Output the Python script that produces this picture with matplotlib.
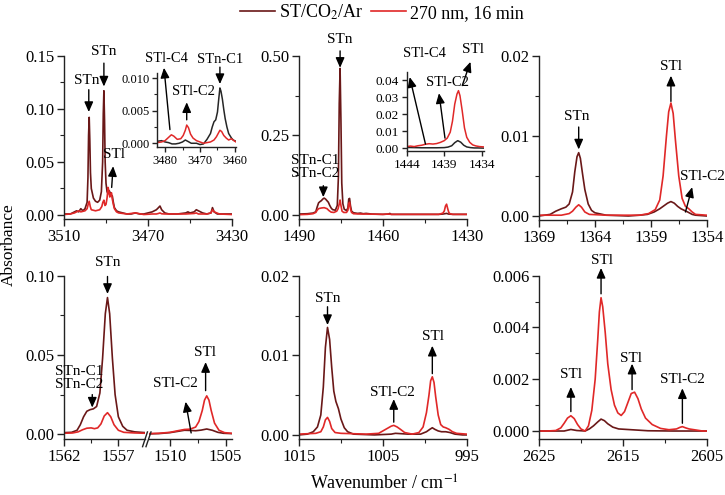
import matplotlib
matplotlib.use("Agg")
import matplotlib.pyplot as plt
from matplotlib.ticker import AutoMinorLocator, FormatStrFormatter
from matplotlib.lines import Line2D

plt.rcParams['font.family'] = ['Liberation Serif', 'DejaVu Serif']
plt.rcParams['mathtext.fontset'] = 'stix'

DARK = '#6a1818'
RED = '#e02828'
INSET_DARK = '#262626'
legend_labels = ['ST/CO$_2$/Ar', '270 nm, 16 min']

# ---------------- Panel A (3510-3430) ----------------
a_dark_x = [3510, 3507, 3505, 3504, 3503, 3502, 3501, 3500, 3499, 3498.6, 3498.3, 3498.0, 3497.7, 3497.4, 3497,
            3496, 3495, 3494, 3493, 3492.2, 3491.6, 3491.3, 3491.0, 3490.7, 3490.4, 3490, 3489.5, 3489, 3488.5,
            3488, 3487.5, 3487, 3486.5, 3486, 3485, 3484, 3482, 3480, 3478, 3476, 3474, 3472, 3470, 3468, 3466,
            3465, 3464.3, 3463.5, 3462, 3460, 3456, 3452, 3451, 3450, 3448, 3447, 3446, 3444, 3442, 3440, 3439.3,
            3438.5, 3437, 3434, 3430]
a_dark_y = [0.001, 0.001, 0.003, 0.004, 0.003, 0.006, 0.004, 0.006, 0.012, 0.035, 0.075, 0.092, 0.07, 0.04, 0.025,
            0.016, 0.013, 0.012, 0.014, 0.022, 0.05, 0.095, 0.117, 0.09, 0.05, 0.03, 0.022, 0.02, 0.023,
            0.021, 0.019, 0.018, 0.012, 0.007, 0.004, 0.003, 0.002, 0.001, 0.001, 0.002, 0.001, 0.001, 0.002, 0.003, 0.005,
            0.007, 0.0085, 0.005, 0.002, 0.001, 0.001, 0.002, 0.003, 0.002, 0.003, 0.005, 0.004, 0.002, 0.001, 0.002, 0.007,
            0.003, 0.001, 0.001, 0.001]
a_red_x = [3510, 3507, 3505, 3503, 3502, 3500, 3499, 3498.5, 3498, 3497.5, 3497, 3495, 3493, 3492, 3491.5, 3491,
           3490.5, 3490, 3489.5, 3489, 3488.6, 3488.2, 3487.8, 3487.4, 3487, 3486.5, 3486, 3485, 3484, 3480, 3476,
           3472, 3468, 3466, 3465, 3464.3, 3463.5, 3462, 3456, 3452, 3448, 3447, 3446, 3442, 3440, 3439.3, 3438.5,
           3436, 3430]
a_red_y = [0.0005, 0.001, 0.002, 0.004, 0.003, 0.004, 0.006, 0.01, 0.013, 0.008, 0.005, 0.004, 0.005, 0.008, 0.012, 0.014,
           0.009, 0.01, 0.016, 0.026, 0.022, 0.017, 0.019, 0.021, 0.015, 0.01, 0.006, 0.003, 0.002, 0.001, 0.002,
           0.0005, 0.001, 0.001, 0.0015, 0.002, 0.0012, 0.001, 0.001, 0.001, 0.0015, 0.002, 0.001, 0.001, 0.002, 0.005, 0.003,
           0.001, 0.0005]
ia_dark_x = [3482.3, 3481, 3480, 3479, 3478, 3477, 3476, 3475, 3474.2, 3473.5, 3472.5, 3471, 3470, 3469, 3468, 3467,
             3466.5, 3466, 3465.5, 3465, 3464.6, 3464.3, 3464, 3463.6, 3463.2, 3462.8, 3462.3, 3461.8, 3461, 3460.5, 3459.7]
ia_dark_y = [0.0003, 0.0004, 0.0002, 0.0001, -0.0001, -0.0001, 0.0000, 0.0002, 0.0005, 0.0003, 0.0000, 0.0000, -0.0002,
             -0.0001, 0.0006, 0.0015, 0.0025, 0.0033, 0.0036, 0.0048, 0.0070, 0.0085, 0.0080, 0.0068, 0.0052, 0.0038,
             0.0025, 0.0015, 0.0008, 0.0005, 0.0003]
ia_red_x = [3482.3, 3481, 3480, 3479, 3478.2, 3477.5, 3476.5, 3475.5, 3474.8, 3474.2, 3473.8, 3473.3, 3472.7, 3472, 3471,
            3470, 3469, 3468, 3467, 3466, 3465.3, 3464.7, 3464.3, 3463.8, 3463.2, 3462.5, 3461.8, 3461, 3460.3, 3459.7]
ia_red_y = [0.0001, 0.0002, 0.0004, 0.0009, 0.0013, 0.0011, 0.0006, 0.0007, 0.0012, 0.0020, 0.0028, 0.0024, 0.0014, 0.0008,
            0.0004, 0.0002, 0.0000, 0.0001, 0.0002, 0.0005, 0.0010, 0.0016, 0.0020, 0.0018, 0.0012, 0.0008, 0.0005, 0.0007,
            0.0004, 0.0002]

# ---------------- Panel B (1490-1430) ----------------
b_dark_x = [1490, 1487, 1485, 1484, 1483.5, 1483, 1482.5, 1482, 1481.5, 1481, 1480.5, 1480, 1479.5, 1479, 1478.5, 1478,
            1477, 1476.3, 1475.9, 1475.6, 1475.3, 1475.0, 1474.7, 1474.3, 1473.8, 1473, 1472.5, 1472.2, 1471.9, 1471.6,
            1471.2, 1470.5, 1469, 1468, 1467, 1466, 1464, 1460, 1458, 1457.5, 1457, 1450, 1445, 1440, 1438.5, 1437.2,
            1436.5, 1435, 1430]
b_dark_y = [0.003, 0.004, 0.006, 0.01, 0.025, 0.038, 0.042, 0.045, 0.05, 0.053, 0.05, 0.045, 0.04, 0.03, 0.022, 0.017,
            0.015, 0.03, 0.12, 0.35, 0.46, 0.3, 0.1, 0.035, 0.018, 0.014, 0.022, 0.05, 0.052, 0.03,
            0.012, 0.007, 0.005, 0.006, 0.004, 0.005, 0.003, 0.002, 0.003, 0.005, 0.002, 0.002, 0.002, 0.002, 0.003, 0.005,
            0.003, 0.002, 0.002]
b_red_x = [1490, 1487, 1485, 1484, 1483.5, 1483, 1482, 1481, 1480, 1479.3, 1478.5, 1477.5, 1476.5, 1476, 1475.6, 1475.3,
           1475.0, 1474.6, 1474, 1473, 1472.5, 1472.2, 1471.9, 1471.6, 1471.2, 1470.5, 1468, 1466, 1460, 1458, 1457, 1450,
           1440, 1438.5, 1438, 1437.6, 1437.2, 1436.8, 1436.4, 1436, 1435, 1430]
b_red_y = [0.001, 0.002, 0.004, 0.008, 0.015, 0.02, 0.022, 0.023, 0.02, 0.014, 0.009, 0.008, 0.012, 0.02, 0.035, 0.047,
           0.03, 0.012, 0.008, 0.008, 0.015, 0.035, 0.04, 0.02, 0.008, 0.004, 0.003, 0.003, 0.002, 0.003, 0.002, 0.002,
           0.002, 0.006, 0.013, 0.028, 0.034, 0.02, 0.008, 0.004, 0.002, 0.002]
ib_dark_x = [1444, 1443, 1442, 1441, 1440, 1439, 1438.5, 1438, 1437.6, 1437.2, 1436.8, 1436.4, 1436, 1435.5, 1435, 1434.5, 1433.7]
ib_dark_y = [0.0005, 0.0004, 0.0003, 0.0003, 0.0003, 0.0004, 0.0007, 0.0015, 0.0033, 0.0045, 0.0036, 0.0018, 0.0008, 0.0004,
             0.0002, 0.0002, 0.0001]
ib_red_x = [1444, 1443.5, 1443, 1442.5, 1442, 1441.5, 1441, 1440.5, 1440, 1439.5, 1439, 1438.6, 1438.2, 1437.9, 1437.6,
            1437.3, 1437.1, 1436.9, 1436.6, 1436.3, 1436, 1435.6, 1435.2, 1434.8, 1434.3, 1433.7]
ib_red_y = [0.0010, 0.0013, 0.0010, 0.0015, 0.0018, 0.0024, 0.0027, 0.0025, 0.0028, 0.0035, 0.0045, 0.0060, 0.0095, 0.016,
            0.026, 0.032, 0.034, 0.031, 0.022, 0.012, 0.0065, 0.0035, 0.002, 0.0014, 0.0010, 0.0008]

# ---------------- Panel C (1369-1354) ----------------
c_dark_x = [1369, 1368.5, 1368, 1367.5, 1367, 1366.6, 1366.3, 1366.0, 1365.8, 1365.6, 1365.45, 1365.3, 1365.1, 1364.9,
            1364.6, 1364.3, 1364, 1363, 1361, 1360, 1359.3, 1358.7, 1358.2, 1357.8, 1357.5, 1357.2, 1356.9, 1356.6,
            1356.3, 1356.0, 1355.7, 1355.3, 1355, 1354]
c_dark_y = [0.0000, 0.0001, 0.0002, 0.0006, 0.0009, 0.0011, 0.0015, 0.0030, 0.0055, 0.0074, 0.0079, 0.0072, 0.0052, 0.0033,
            0.0015, 0.0007, 0.0004, 0.0001, 0.0000, 0.0001, 0.0002, 0.0005, 0.0009, 0.0013, 0.0016, 0.0018, 0.0016, 0.0012,
            0.0009, 0.0007, 0.0005, 0.0002, 0.0001, 0.0000]
c_red_x = [1369, 1367, 1366.3, 1366.0, 1365.7, 1365.45, 1365.2, 1364.9, 1364.5, 1363, 1360, 1359.2, 1358.6, 1358.2, 1357.9,
           1357.6, 1357.4, 1357.2, 1357.0, 1356.8, 1356.5, 1356.2, 1355.9, 1355.6, 1355.3, 1355, 1354]
c_red_y = [0.0001, 0.0001, 0.0003, 0.0006, 0.0011, 0.0014, 0.0011, 0.0005, 0.0002, 0.0001, 0.0001, 0.0003, 0.0008, 0.0020,
           0.0050, 0.0100, 0.0130, 0.0141, 0.0128, 0.0095, 0.0050, 0.0022, 0.0012, 0.0009, 0.0005, 0.0002, 0.0001]

# ---------------- Panel D (1562-1555 // 1512-1504) ----------------
dl_dark_x = [1562, 1561.3, 1560.8, 1560.5, 1560.2, 1559.9, 1559.6, 1559.3, 1559.0, 1558.7, 1558.45, 1558.2, 1558.0,
             1557.8, 1557.55, 1557.3, 1557.0, 1556.6, 1556.2, 1555.5, 1554.5]
dl_dark_y = [0.0010, 0.0012, 0.0025, 0.0060, 0.0110, 0.0145, 0.0155, 0.0160, 0.0175, 0.0260, 0.0480, 0.0760, 0.0862,
             0.0760, 0.0480, 0.0250, 0.0110, 0.0050, 0.0025, 0.0015, 0.0010]
dl_red_x = [1562, 1561.2, 1560.7, 1560.3, 1559.9, 1559.5, 1559.2, 1558.9, 1558.6, 1558.3, 1558.0, 1557.7, 1557.4, 1557.0,
            1556.5, 1555.5, 1554.5]
dl_red_y = [0.0006, 0.0008, 0.0015, 0.0028, 0.0038, 0.0040, 0.0035, 0.0040, 0.0065, 0.0115, 0.0136, 0.0110, 0.0060, 0.0025,
            0.0012, 0.0008, 0.0006]
dr_dark_x = [1512, 1511, 1510, 1509.3, 1508.7, 1508.2, 1507.7, 1507.2, 1506.7, 1506.2, 1505.7, 1505.2, 1504.5]
dr_dark_y = [0.0002, 0.0004, 0.0010, 0.0018, 0.0025, 0.0024, 0.0022, 0.0026, 0.0033, 0.0025, 0.0012, 0.0006, 0.0004]
dr_red_x = [1512, 1511, 1510, 1509.3, 1508.7, 1508.2, 1507.7, 1507.4, 1507.1, 1506.9, 1506.7, 1506.5, 1506.3, 1506.0,
            1505.6, 1505.1, 1504.5]
dr_red_y = [0.0004, 0.0006, 0.0012, 0.0022, 0.0030, 0.0032, 0.0045, 0.0080, 0.0150, 0.0215, 0.0242, 0.0215, 0.0150, 0.0070,
            0.0025, 0.0010, 0.0006]

# ---------------- Panel E (1015-995) ----------------
e_dark_x = [1015, 1014, 1013.3, 1012.8, 1012.4, 1012.1, 1011.85, 1011.6, 1011.35, 1011.1, 1010.85, 1010.6, 1010.3,
            1010.0, 1009.6, 1009.2, 1008.5, 1006, 1004, 1003.5, 1002, 1000.5, 999.8, 999.4, 999.1, 998.8, 998.4, 998.0,
            997.5, 997.0, 996.4, 995.5, 995]
e_dark_y = [0.0000, 0.0001, 0.0004, 0.0010, 0.0025, 0.0060, 0.0110, 0.0135, 0.0120, 0.0085, 0.0055, 0.0042, 0.0033,
            0.0020, 0.0009, 0.0004, 0.0001, 0.0000, 0.0001, 0.0002, 0.0001, 0.0001, 0.0004, 0.0007, 0.0009, 0.0007,
            0.0005, 0.0004, 0.0004, 0.0003, 0.0001, 0.0000, 0.0000]
e_red_x = [1015, 1013, 1012.4, 1012.1, 1011.85, 1011.6, 1011.35, 1011.1, 1010.7, 1010, 1007, 1005.5, 1005, 1004.5, 1004.0,
           1003.7, 1003.3, 1002.9, 1002.4, 1001.5, 1000.7, 1000.2, 999.8, 999.5, 999.3, 999.1, 998.9, 998.7, 998.4,
           998.1, 997.8, 997.5, 997.1, 996.7, 996.2, 995]
e_red_y = [0.0001, 0.0002, 0.0004, 0.0010, 0.0019, 0.0022, 0.0017, 0.0008, 0.0003, 0.0002, 0.0001, 0.0002, 0.0005, 0.0008,
           0.0011, 0.0012, 0.0010, 0.0007, 0.0003, 0.0001, 0.0003, 0.0010, 0.0028, 0.0050, 0.0068, 0.0073, 0.0066,
           0.0048, 0.0025, 0.0013, 0.0010, 0.0009, 0.0007, 0.0004, 0.0002, 0.0001]

# ---------------- Panel F (2625-2605) ----------------
f_red_x = [2625, 2624, 2623, 2622.4, 2622, 2621.6, 2621.2, 2620.8, 2620.4, 2620, 2619.5, 2619.1, 2618.7, 2618.3, 2618.0,
           2617.8, 2617.6, 2617.4, 2617.1, 2616.8, 2616.4, 2616.0, 2615.6, 2615.2, 2614.8, 2614.4, 2614.0, 2613.6,
           2613.2, 2612.8, 2612.3, 2611.5, 2610.5, 2609.5, 2608.6, 2608.2, 2607.9, 2607.5, 2607.1, 2606.5, 2605.5, 2605]
f_red_y = [0.0, 0.0, 0.00002, 0.00012, 0.0003, 0.0005, 0.00059, 0.00048, 0.00025, 0.00008, 0.0, 0.0002, 0.0008, 0.002,
           0.0035, 0.0046, 0.00515, 0.0048, 0.0038, 0.0026, 0.0016, 0.001, 0.0007, 0.0006, 0.00075, 0.0011, 0.00145,
           0.0015, 0.00125, 0.00085, 0.0005, 0.00025, 0.0001, 0.00005, 0.00008, 0.00014, 0.00017, 0.00012, 0.00008,
           0.00005, 0.0, 0.0]
f_dark_x = [2625, 2622, 2621.2, 2620.5, 2619.5, 2619, 2618.5, 2618, 2617.6, 2617.2, 2616.8, 2616.2, 2615.5, 2614.5,
            2613.5, 2612, 2609, 2605]
f_dark_y = [0.0, 0.0, 0.00006, 0.00002, 0.0, 0.00008, 0.0002, 0.00035, 0.00046, 0.0004, 0.00028, 0.00015, 0.00008,
            0.00006, 0.00004, 0.00001, 0.0, 0.0]

# ---------------- figure ----------------
W, H = 725, 495
fig = plt.figure(figsize=(W / 100, H / 100), dpi=100)


def add_ax(x0, x1, ytop, ybot, **kw):
    return fig.add_axes([x0 / W, 1 - ybot / H, (x1 - x0) / W, (ybot - ytop) / H], **kw)


def style(ax, fs=12, minor=True, major_len=5):
    for s in ['top', 'right']:
        ax.spines[s].set_visible(False)
    for s in ['left', 'bottom']:
        ax.spines[s].set_linewidth(1.0)
        ax.spines[s].set_color('#222222')
    ax.tick_params(which='major', direction='out', length=major_len, width=1, labelsize=fs, pad=2,
                   color='#222222')
    ax.tick_params(which='minor', direction='out', length=major_len * 0.6, width=0.8, color='#222222')
    if minor:
        ax.xaxis.set_minor_locator(AutoMinorLocator(2))
        ax.yaxis.set_minor_locator(AutoMinorLocator(2))
    ax.patch.set_alpha(0)


def curves(ax, xd, yd, xr, yr, dark=DARK, lw=1.2):
    ax.plot(xd, yd, color=dark, lw=lw, solid_joinstyle='round')
    ax.plot(xr, yr, color=RED, lw=lw, solid_joinstyle='round')


def arrow(ax, tail, head):
    ax.annotate('', xy=head, xytext=tail, annotation_clip=False,
                arrowprops=dict(arrowstyle='-|>,head_length=0.5,head_width=0.22', color='black', lw=1.0,
                                mutation_scale=12, shrinkA=0, shrinkB=0))


def label(ax, x, y, s, fs=11):
    ax.text(x, y, s, ha='center', va='center', fontsize=fs, linespacing=0.95, clip_on=False)


# Panel A
axA = add_ax(64, 232, 55.7, 219.3)
curves(axA, a_dark_x, a_dark_y, a_red_x, a_red_y)
axA.set_xlim(3510, 3430)
axA.set_ylim(-0.004, 0.15)
axA.set_xticks([3510, 3470, 3430])
axA.set_yticks([0.0, 0.05, 0.10, 0.15])
axA.yaxis.set_major_formatter(FormatStrFormatter('%.2f'))
style(axA)
label(axA, 3486.4, 0.057, 'STl')
arrow(axA, (3487.3, 0.026), (3486.6, 0.046))
label(axA, 3499.2, 0.127, 'STn')
arrow(axA, (3498.2, 0.118), (3498.2, 0.097))
label(axA, 3491, 0.154, 'STn')
arrow(axA, (3491, 0.143), (3491, 0.121))

iA = add_ax(157, 236, 73, 147.3)
curves(iA, ia_dark_x, ia_dark_y, ia_red_x, ia_red_y, dark=INSET_DARK, lw=1.1)
iA.set_xlim(3482.3, 3459.7)
iA.set_ylim(-0.00062, 0.0108)
iA.set_xticks([3480, 3470, 3460])
iA.set_yticks([0.0, 0.005, 0.010])
iA.yaxis.set_major_formatter(FormatStrFormatter('%.3f'))
style(iA, fs=9, major_len=3.5)
label(iA, 3479.5, 0.0131, 'STl-C4', fs=10.5)
arrow(iA, (3478.6, 0.0021), (3480.3, 0.0116))
label(iA, 3472.0, 0.0079, 'STl-C2', fs=10.5)
arrow(iA, (3473.8, 0.0036), (3473.8, 0.0063))
label(iA, 3464.2, 0.0128, 'STn-C1', fs=10.5)
arrow(iA, (3464.3, 0.0117), (3464.3, 0.0091))

# Panel B
axB = add_ax(299, 466.7, 55.7, 219.3)
curves(axB, b_dark_x, b_dark_y, b_red_x, b_red_y)
axB.set_xlim(1490, 1430)
axB.set_ylim(-0.0135, 0.50)
axB.set_xticks([1490, 1460, 1430])
axB.set_yticks([0.0, 0.25, 0.50])
axB.yaxis.set_major_formatter(FormatStrFormatter('%.2f'))
style(axB)
label(axB, 1475.3, 0.552, 'STn')
arrow(axB, (1475.3, 0.515), (1475.3, 0.462))
label(axB, 1484.2, 0.15, 'STn-C1\nSTn-C2')
arrow(axB, (1481.3, 0.092), (1481.3, 0.056))

iB = add_ax(406.7, 484, 72, 151)
curves(iB, ib_dark_x, ib_dark_y, ib_red_x, ib_red_y, dark=INSET_DARK, lw=1.1)
iB.set_xlim(1444, 1433.7)
iB.set_ylim(-0.0016, 0.045)
iB.set_xticks([1444, 1439, 1434])
iB.set_yticks([0.0, 0.01, 0.02, 0.03, 0.04])
iB.yaxis.set_major_formatter(FormatStrFormatter('%.2f'))
style(iB, fs=9.5, major_len=3.5, minor=False)
label(iB, 1441.6, 0.056, 'STl-C4', fs=10.5)
arrow(iB, (1441.5, 0.0025), (1443.6, 0.042))
label(iB, 1438.6, 0.039, 'STl-C2', fs=10.5)
arrow(iB, (1438.9, 0.006), (1439.7, 0.0325))
label(iB, 1435.2, 0.058, 'STl', fs=11)
arrow(iB, (1436.6, 0.037), (1435.5, 0.051))

# Panel C
axC = add_ax(539, 706.7, 55.7, 220)
curves(axC, c_dark_x, c_dark_y, c_red_x, c_red_y)
axC.set_xlim(1369, 1354)
axC.set_ylim(-0.0005, 0.02)
axC.set_xticks([1369, 1364, 1359, 1354])
axC.set_yticks([0.0, 0.01, 0.02])
axC.yaxis.set_major_formatter(FormatStrFormatter('%.2f'))
style(axC)
label(axC, 1365.6, 0.0124, 'STn')
arrow(axC, (1365.45, 0.0111), (1365.45, 0.0083))
label(axC, 1357.2, 0.0187, 'STl')
arrow(axC, (1357.2, 0.0143), (1357.2, 0.0175))
label(axC, 1354.4, 0.0049, 'STl-C2')
arrow(axC, (1355.9, 0.0005), (1355.3, 0.0036))

# Panel D (broken axis)
axDL = add_ax(64, 145, 275.7, 439.3)
axDR = add_ax(148.5, 232, 275.7, 439.3)
curves(axDL, dl_dark_x, dl_dark_y, dl_red_x, dl_red_y)
curves(axDR, dr_dark_x, dr_dark_y, dr_red_x, dr_red_y)
axDL.set_xlim(1562, 1554.55)
axDR.set_xlim(1511.93, 1504.43)
for ax in (axDL, axDR):
    ax.set_ylim(-0.0032, 0.10)
axDL.set_xticks([1562, 1557])
axDR.set_xticks([1510, 1505])
axDL.set_yticks([0.0, 0.05, 0.10])
axDL.yaxis.set_major_formatter(FormatStrFormatter('%.2f'))
style(axDL)
style(axDR)
axDR.spines['left'].set_visible(False)
axDR.tick_params(axis='y', which='both', left=False, labelleft=False)
for ax, xpos in ((axDL, 1.0), (axDR, 0.0)):
    ax.plot([xpos - 0.03, xpos + 0.03], [-0.045, 0.045], transform=ax.transAxes, color='#222222',
            lw=1.0, clip_on=False)
label(axDL, 1558.0, 0.1085, 'STn')
arrow(axDL, (1558.0, 0.0995), (1558.0, 0.0885))
label(axDL, 1560.6, 0.0355, 'STn-C1\nSTn-C2')
arrow(axDL, (1559.4, 0.0250), (1559.4, 0.0168))
label(axDR, 1506.9, 0.0515, 'STl')
arrow(axDR, (1506.8, 0.0275), (1506.8, 0.0455))
label(axDR, 1509.5, 0.0318, 'STl-C2')
arrow(axDR, (1508.1, 0.0008), (1508.6, 0.0205))

# Panel E
axE = add_ax(299, 466.7, 275.7, 439.3)
curves(axE, e_dark_x, e_dark_y, e_red_x, e_red_y)
axE.set_xlim(1015, 995)
axE.set_ylim(-0.00055, 0.02)
axE.set_xticks([1015, 1005, 995])
axE.set_yticks([0.0, 0.01, 0.02])
axE.yaxis.set_major_formatter(FormatStrFormatter('%.2f'))
style(axE)
label(axE, 1011.6, 0.0171, 'STn')
arrow(axE, (1011.6, 0.0161), (1011.6, 0.0138))
label(axE, 999.0, 0.0124, 'STl')
arrow(axE, (999.1, 0.0077), (999.1, 0.0112))
label(axE, 1003.8, 0.0053, 'STl-C2')
arrow(axE, (1003.7, 0.0016), (1003.7, 0.0045))

# Panel F
axF = add_ax(539, 706.7, 275.7, 439.3)
curves(axF, f_dark_x, f_dark_y, f_red_x, f_red_y)
axF.set_xlim(2625, 2605)
axF.set_ylim(-0.00032, 0.006)
axF.set_xticks([2625, 2615, 2605])
axF.set_yticks([0.0, 0.002, 0.004, 0.006])
axF.yaxis.set_major_formatter(FormatStrFormatter('%.3f'))
style(axF)
label(axF, 2617.5, 0.0066, 'STl')
arrow(axF, (2617.6, 0.0053), (2617.6, 0.0063))
label(axF, 2621.2, 0.0022, 'STl')
arrow(axF, (2621.2, 0.00075), (2621.2, 0.0017))
label(axF, 2614.0, 0.0028, 'STl')
arrow(axF, (2613.9, 0.0016), (2613.9, 0.0026))
label(axF, 2607.9, 0.0020, 'STl-C2')
arrow(axF, (2607.9, 0.0003), (2607.9, 0.00165))

# Legend and global labels
handles = [Line2D([], [], color=DARK, lw=1.2), Line2D([], [], color=RED, lw=1.2)]
fig.legend(handles, legend_labels, loc='upper center', bbox_to_anchor=(0.527, 0.998), ncol=2,
           frameon=False, fontsize=13, handlelength=1.9, handletextpad=0.25, columnspacing=0.45,
           borderaxespad=0, borderpad=0.1)
fig.text(9 / W, 1 - 245 / H, 'Absorbance', rotation=90, ha='center', va='center', fontsize=12.5)
fig.text(384 / W, 1 - 484 / H, 'Wavenumber / cm$^{-1}$', ha='center', va='center', fontsize=13)

fig.savefig('out.png', dpi=100)
